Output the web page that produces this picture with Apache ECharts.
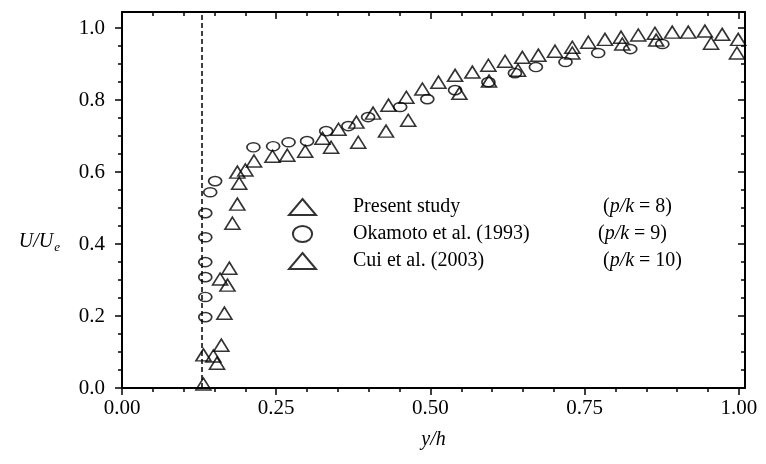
<!DOCTYPE html>
<html><head><meta charset="utf-8">
<script src="https://cdn.jsdelivr.net/npm/echarts@6/dist/echarts.min.js"></script>
<style>html,body{margin:0;padding:0;background:#fff}#c{width:766px;height:464px}</style>
</head><body><div id="c"></div>
<script>
// ---- data ----
const seriesNames = ['Present study', 'Okamoto et al. (1993)', 'Cui et al. (2003)'];
const pkValues = ['8', '9', '10'];

const presentX = [0.132,0.132,0.159,0.174,0.187,0.187,0.214,0.268,0.297,0.325,0.351,0.380,0.407,0.432,0.461,0.487,0.513,0.540,0.568,0.594,0.621,0.649,0.675,0.702,0.730,0.756,0.783,0.809,0.837,0.864,0.892,0.918,0.945,0.973,0.999];
const presentY = [0.011,0.092,0.303,0.333,0.511,0.600,0.631,0.647,0.658,0.694,0.719,0.739,0.764,0.786,0.808,0.831,0.850,0.869,0.878,0.897,0.908,0.919,0.925,0.936,0.947,0.961,0.969,0.975,0.981,0.986,0.989,0.989,0.992,0.983,0.969];

const okamotoX = [0.135,0.135,0.135,0.135,0.135,0.135,0.143,0.151,0.213,0.245,0.270,0.300,0.331,0.367,0.399,0.451,0.495,0.540,0.594,0.637,0.671,0.719,0.772,0.824,0.876];
const okamotoY = [0.197,0.253,0.308,0.350,0.419,0.486,0.544,0.575,0.669,0.672,0.683,0.686,0.714,0.728,0.753,0.781,0.803,0.828,0.850,0.875,0.892,0.906,0.931,0.942,0.956];

const cuiX = [0.148,0.154,0.161,0.166,0.171,0.179,0.190,0.200,0.244,0.339,0.383,0.428,0.464,0.547,0.595,0.642,0.730,0.811,0.866,0.955,0.997];
const cuiY = [0.089,0.069,0.119,0.208,0.286,0.458,0.569,0.606,0.644,0.669,0.683,0.714,0.744,0.819,0.853,0.883,0.931,0.956,0.967,0.958,0.931];

const wallX = 0.13;

const xMajor = [0, 0.25, 0.5, 0.75, 1.0];
const xLabels = ['0.00', '0.25', '0.50', '0.75', '1.00'];
const xMinor = [0.05,0.1,0.15,0.2,0.3,0.35,0.4,0.45,0.55,0.6,0.65,0.7,0.8,0.85,0.9,0.95];
const yMajor = [0, 0.2, 0.4, 0.6, 0.8, 1.0];
const yLabels = ['0.0', '0.2', '0.4', '0.6', '0.8', '1.0'];
const yMinor = [0.05,0.1,0.15,0.25,0.3,0.35,0.45,0.5,0.55,0.65,0.7,0.75,0.85,0.9,0.95];
const xRange = [0, 1.01];
const yRange = [0, 1.045];

// ---- chart ----
const FONT = 'Liberation Serif';
const zip = (a, b) => a.map((v, i) => [v, b[i]]);
const ellipse = 'path://M0,5A6,5 0 1,0 12,5A6,5 0 1,0 0,5Z';

function xAxisDef(pos, ticks, len, inside, showLine, label) {
  return {
    type: 'value', position: pos, min: xRange[0], max: xRange[1],
    splitLine: { show: false },
    axisLine: { show: showLine, onZero: false, lineStyle: { color: '#000', width: 2 } },
    axisTick: { show: true, customValues: ticks, inside: inside, length: len, lineStyle: { color: '#000', width: 1.5 } },
    axisLabel: label ? {
      show: true, customValues: xMajor, margin: 10,
      formatter: v => xLabels[xMajor.indexOf(v)] ?? '',
      fontFamily: FONT, fontSize: 21, color: '#000'
    } : { show: false }
  };
}
function yAxisDef(pos, ticks, len, inside, showLine, label) {
  return {
    type: 'value', position: pos, min: yRange[0], max: yRange[1],
    splitLine: { show: false },
    axisLine: { show: showLine, onZero: false, lineStyle: { color: '#000', width: 2 } },
    axisTick: { show: true, customValues: ticks, inside: inside, length: len, lineStyle: { color: '#000', width: 1.5 } },
    axisLabel: label ? {
      show: true, customValues: yMajor, margin: 17,
      formatter: v => yLabels[yMajor.indexOf(v)] ?? '',
      fontFamily: FONT, fontSize: 21, color: '#000'
    } : { show: false }
  };
}

const xAxes = [
  Object.assign(xAxisDef('bottom', xMajor, 7, false, true, true), {
    name: 'y/h', nameLocation: 'middle', nameGap: 42,
    nameTextStyle: { fontFamily: FONT, fontSize: 20, fontStyle: 'italic', color: '#000' }
  }),
  xAxisDef('bottom', xMinor, 4, false, false, false),
  xAxisDef('top', xMajor, 7, true, true, false),
  xAxisDef('top', xMinor, 4, true, false, false)
];
const yAxes = [
  Object.assign(yAxisDef('left', yMajor, 7, false, true, true), {
    name: '{u|U/U}{e|e}', nameLocation: 'middle', nameGap: 62, nameRotate: 0,
    nameTextStyle: {
      padding: [84, 0, 0, 0],
      rich: {
        u: { fontFamily: FONT, fontSize: 20, fontStyle: 'italic', color: '#000' },
        e: { fontFamily: FONT, fontSize: 13, fontStyle: 'italic', color: '#000', padding: [12, 0, 0, 1] }
      }
    }
  }),
  yAxisDef('left', yMinor, 4, false, false, false),
  yAxisDef('right', yMajor, 7, true, true, false),
  yAxisDef('right', yMinor, 4, true, false, false)
];

const hollow = { color: 'rgba(255,255,255,0)', borderColor: '#000', borderWidth: 1.6 };
const legendNameWidths = [250, 245, 250];

const chart = echarts.init(document.getElementById('c'), null, { renderer: 'canvas' });
chart.setOption({
  animation: false,
  backgroundColor: '#fff',
  grid: { left: 122, right: 21, top: 12, bottom: 76, containLabel: false },
  xAxis: xAxes,
  yAxis: yAxes,
  legend: {
    orient: 'vertical', left: 283, top: 192,
    itemWidth: 27, itemHeight: 16, itemGap: 7,
    data: seriesNames,
    formatter: name => {
      const i = seriesNames.indexOf(name);
      return `{a${i}|${name}}{p|(}{i|p/k}{p| = ${pkValues[i]})}`;
    },
    textStyle: {
      fontFamily: FONT, fontSize: 20, color: '#000',
      rich: {
        a0: { fontFamily: FONT, fontSize: 20, color: '#000', width: legendNameWidths[0], padding: [0, 0, 0, 32] },
        a1: { fontFamily: FONT, fontSize: 20, color: '#000', width: legendNameWidths[1], padding: [0, 0, 0, 32] },
        a2: { fontFamily: FONT, fontSize: 20, color: '#000', width: legendNameWidths[2], padding: [0, 0, 0, 32] },
        p: { fontFamily: FONT, fontSize: 20, color: '#000' },
        i: { fontFamily: FONT, fontSize: 20, color: '#000', fontStyle: 'italic' }
      }
    }
  },
  series: [
    {
      name: seriesNames[0], type: 'scatter', xAxisIndex: 0, yAxisIndex: 0,
      symbol: 'triangle', symbolSize: [15, 12], itemStyle: hollow,
      data: zip(presentX, presentY)
    },
    {
      name: seriesNames[1], type: 'scatter', xAxisIndex: 0, yAxisIndex: 0,
      symbol: ellipse, symbolSize: [13, 11], symbolKeepAspect: true, itemStyle: hollow,
      data: zip(okamotoX, okamotoY),
      markLine: {
        silent: true, symbol: ['none', 'none'], label: { show: false },
        lineStyle: { color: '#000', type: [5, 3], width: 1.5 },
        data: [{ xAxis: wallX }]
      }
    },
    {
      name: seriesNames[2], type: 'scatter', xAxisIndex: 0, yAxisIndex: 0,
      symbol: 'triangle', symbolSize: [15, 12], itemStyle: hollow,
      data: zip(cuiX, cuiY)
    }
  ]
});
</script>
</body></html>
